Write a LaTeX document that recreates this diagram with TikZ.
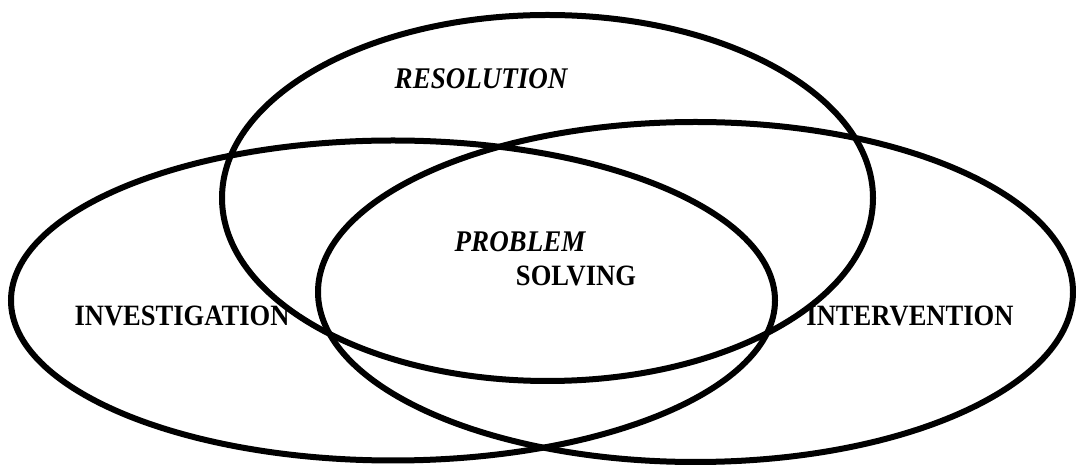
\documentclass[tikz,border=0pt]{standalone}
\usepackage{fontspec}
\setmainfont[FakeStretch=0.9]{Liberation Serif}
\usetikzlibrary{
  shapes.geometric,
}
\tikzset{
  vennRing/.style 2 args={
    ellipse, draw=black, line width=6pt, inner sep=0pt,
    minimum width=#1, minimum height=#2,
  },
  setLabel/.style={
    inner sep=0pt, font=\fontsize{29.5}{33}\selectfont\bfseries,
  },
  setLabelIt/.style={
    setLabel, font=\fontsize{30}{34}\selectfont\bfseries\itshape,
  },
}

\begin{document}
\begin{tikzpicture}[x=1pt, y=1pt]

\useasboundingbox (0,0) rectangle (1076,468);

% the three sets
\node[vennRing={651pt}{366pt}] (ringRes) at (547.5,270) {};
\node[vennRing={764pt}{320pt}] (ringInv) at (393,167.5) {};
\node[vennRing={755pt}{340pt}] (ringInt) at (695.5,176) {};

% set names
\node[setLabelIt] (res) at (481,389) {RESOLUTION};
\node[setLabel] (inv) at (182,152) {INVESTIGATION};
\node[setLabel] (intv) at (910,152) {INTERVENTION};

% the common core
\node[setLabelIt] (prob) at (520,226) {PROBLEM};
\node[setLabel] (solv) at (576,192) {SOLVING};

\end{tikzpicture}
\end{document}
